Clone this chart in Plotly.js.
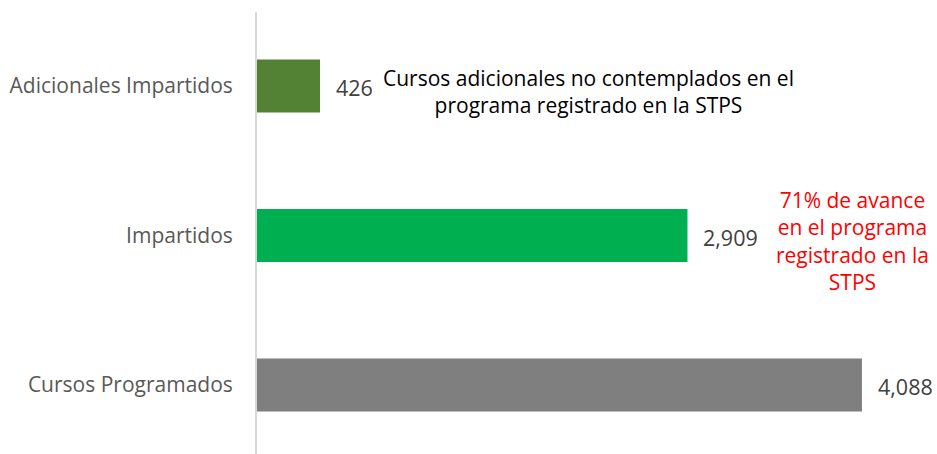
<!DOCTYPE html>
<html>
<head>
<meta charset="utf-8">
<script src="https://cdn.plot.ly/plotly-3.0.1.min.js"></script>
<style>html,body{margin:0;padding:0;background:#fff;}#chart{width:937px;height:454px;}</style>
</head>
<body>
<div id="chart"></div>
<script>
const categories = ["Cursos Programados", "Impartidos", "Adicionales Impartidos"];
const values = [4088, 2909, 426];
const barColors = ["#7F7F7F", "#00B050", "#548235"];
const noteAdicionales = "Cursos adicionales no contemplados en el<br>programa registrado en la STPS";
const noteAvance = "71% de avance<br>en el programa<br>registrado en la<br>STPS";

const FONT = "'Open Sans', sans-serif";

const trace = {
  type: "bar",
  orientation: "h",
  x: values,
  y: categories,
  marker: { color: barColors, line: { width: 0 } },
  hoverinfo: "none"
};

const valueAnnotations = values.map((v, i) => ({
  x: v, y: categories[i], xref: "x", yref: "y",
  text: v.toLocaleString("en-US"),
  showarrow: false, xanchor: "left", yanchor: "middle",
  xshift: 14, yshift: -2,
  font: { family: FONT, size: 21.5, color: "#404040" }
}));

const plotW = 937 - 257 - 20, plotH = 454 - 12 - 0;

const layout = {
  width: 937, height: 454,
  margin: { l: 257, r: 20, t: 12, b: 0 },
  paper_bgcolor: "#ffffff", plot_bgcolor: "#ffffff",
  showlegend: false,
  bargap: 0.645,
  xaxis: {
    range: [0, 4460], visible: false, showgrid: false, zeroline: false, fixedrange: true
  },
  yaxis: {
    type: "category",
    categoryorder: "array", categoryarray: categories,
    range: [-0.462, 2.495],
    showline: true, linecolor: "#D9D9D9", linewidth: 2,
    ticks: "outside", ticklen: 18, tickcolor: "rgba(0,0,0,0)",
    showgrid: false, zeroline: false,
    tickfont: { family: FONT, size: 21, color: "#595959" },
    fixedrange: true
  },
  annotations: valueAnnotations.concat([
    {
      xref: "paper", x: (588 - 257) / plotW,
      yref: "paper", y: 1 - (91 - 12) / plotH,
      xanchor: "center", yanchor: "middle",
      text: noteAdicionales, showarrow: false,
      font: { family: FONT, size: 21, color: "#000000" }, align: "center"
    },
    {
      xref: "paper", x: (852 - 257) / plotW,
      yref: "paper", y: 1 - (241 - 12) / plotH,
      xanchor: "center", yanchor: "middle",
      text: noteAvance, showarrow: false,
      font: { family: FONT, size: 21, color: "#FF0000" }, align: "center"
    }
  ])
};

Plotly.newPlot("chart", [trace], layout, { staticPlot: true, displayModeBar: false });
</script>
</body>
</html>
